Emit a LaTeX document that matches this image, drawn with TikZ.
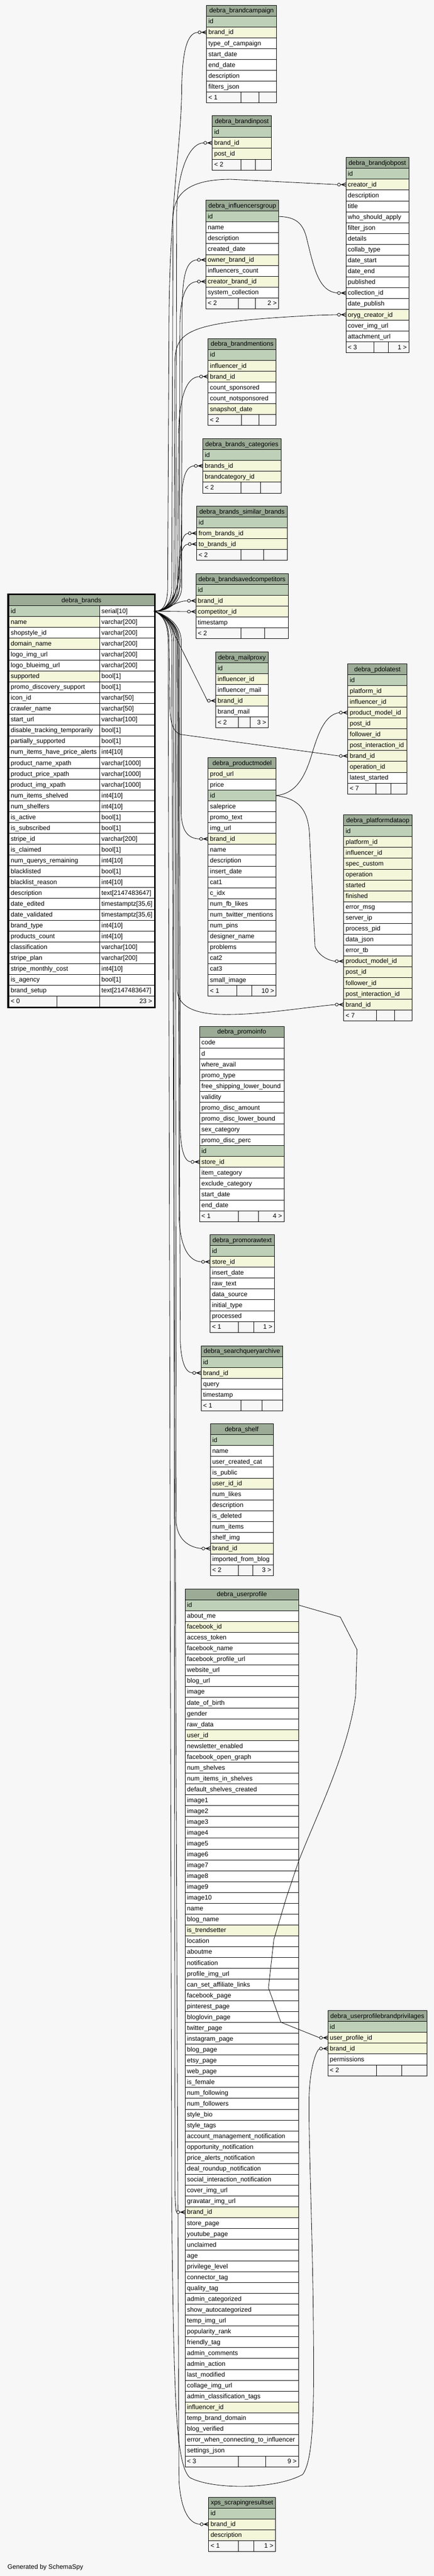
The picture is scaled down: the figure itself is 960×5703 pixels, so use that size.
\documentclass[tikz,border=0pt]{standalone}
\usepackage{fontspec}
\setmainfont{Liberation Sans}
\definecolor{bg}{HTML}{F7F7F7}
\definecolor{hd}{HTML}{9BAB96}
\definecolor{pk}{HTML}{BED1B8}
\definecolor{ix}{HTML}{F4F7DA}
\colorlet{pl}{white}
\newcommand\rfont{\fontsize{10.7}{13}\selectfont}
\tikzset{
  rowbox/.style={draw=black, line width=0.6pt, anchor=north west, minimum height=18pt, inner sep=0pt, outer sep=0pt},
  rowtext/.style={anchor=base west, inner sep=0pt, font=\rfont},
  rowtextr/.style={anchor=base east, inner sep=0pt, font=\rfont},
  hdtext/.style={anchor=base, inner sep=0pt, font=\rfont},
  edge/.style={draw=black, line width=0.7pt},
  crowline/.style={draw=black, line width=0.9pt},
}
\newcommand\dbtable[6]{%
  \node[rowbox, fill=hd, minimum width={#5*0.75pt}] (#1-h) at (#3,#4) {};
  \node[hdtext] at ([yshift=-3.6pt]#1-h.center) {#2};
  \foreach \rc/\rt [count=\ri] in {#6} {
    \node[rowbox, fill=\rc, minimum width={#5*0.75pt}] (#1-\ri) at (#3,#4+24*\ri) {};
    \node[rowtext] at ([shift={(3pt,-3.6pt)}]#1-\ri.west) {\rt};
  }%
}
\newcommand\dbfoot[8]{%
  \node[rowbox, fill=bg, minimum width={#4*0.75pt}] (#1-f) at (#2,#3) {};
  \draw[line width=0.6pt] (#5,#3) -- (#5,#3+24) (#6,#3) -- (#6,#3+24);
  \node[rowtext] at ([shift={(3pt,-3.6pt)}]#1-f.west) {#7};
  \node[rowtextr] at ([shift={(-3pt,-3.6pt)}]#1-f.east) {#8};
}
\newcommand\crowfoot[1]{%
  \draw[crowline] ([xshift=-7.5pt]#1.west) -- ([yshift=3pt]#1.west)
                  ([xshift=-7.5pt]#1.west) -- (#1.west)
                  ([xshift=-7.5pt]#1.west) -- ([yshift=-3pt]#1.west);
  \draw[edge] ([xshift=-9.1pt]#1.west) -- ([xshift=-7.5pt]#1.west);
  \draw[edge, fill=bg] ([xshift=-11.6pt]#1.west) circle (2.5pt);
}
\begin{document}
\begin{tikzpicture}[x=0.75pt,y=-0.75pt]
\fill[bg] (0,0) rectangle (960,5703);
\useasboundingbox (0,0) rectangle (960,5703);

% ---------- tables ----------
\dbtable{bc}{debra\_brandcampaign}{457}{11.6}{155}{pk/id,ix/brand\_id,pl/type\_of\_campaign,pl/start\_date,pl/end\_date,pl/description,pl/filters\_json}
\dbfoot{bc}{457}{203.6}{155}{533}{572.5}{< 1}{}

\dbtable{bi}{debra\_brandinpost}{469.7}{256.3}{131}{pk/id,ix/brand\_id,ix/post\_id}
\dbfoot{bi}{469.7}{352.3}{131}{532.8}{565.2}{< 2}{}

\dbtable{bj}{debra\_brandjobpost}{765.5}{348.7}{139}{pk/id,ix/creator\_id,pl/description,pl/title,pl/who\_should\_apply,pl/filter\_json,pl/details,pl/collab\_type,pl/date\_start,pl/date\_end,pl/published,pl/collection\_id,pl/date\_publish,ix/oryg\_creator\_id,pl/cover\_img\_url,pl/attachment\_url}
\dbfoot{bj}{765.5}{756.7}{139}{827.3}{859.8}{< 3}{1 >}

\dbtable{ig}{debra\_influencersgroup}{455.6}{443.3}{161.1}{pk/id,pl/name,pl/description,pl/created\_date,ix/owner\_brand\_id,pl/influencers\_count,ix/creator\_brand\_id,pl/system\_collection}
\dbfoot{ig}{455.6}{659.3}{161.1}{527.2}{565.2}{< 2}{2 >}

\dbtable{bm}{debra\_brandmentions}{460.5}{749.6}{150.6}{pk/id,ix/influencer\_id,ix/brand\_id,pl/count\_sponsored,pl/count\_notsponsored,ix/snapshot\_date}
\dbfoot{bm}{460.5}{917.6}{150.6}{534}{572.6}{< 2}{}

\dbtable{bcat}{debra\_brands\_categories}{448.9}{971.4}{172.7}{pk/id,ix/brands\_id,ix/brandcategory\_id}
\dbfoot{bcat}{448.9}{1067.4}{172.7}{532.8}{576.9}{< 2}{}

\dbtable{sb}{debra\_brands\_similar\_brands}{435.4}{1120.5}{200.2}{pk/id,ix/from\_brands\_id,ix/to\_brands\_id}
\dbfoot{sb}{435.4}{1216.5}{200.2}{532.8}{583.6}{< 2}{}

\dbtable{sc}{debra\_brandsavedcompetitors}{433.6}{1270}{203.9}{pk/id,ix/brand\_id,ix/competitor\_id,pl/timestamp}
\dbfoot{sc}{433.6}{1390}{203.9}{533.4}{585.4}{< 2}{}

\dbtable{mp}{debra\_mailproxy}{477.6}{1443.3}{115.8}{pk/id,ix/influencer\_id,pl/influencer\_mail,ix/brand\_id,pl/brand\_mail}
\dbfoot{mp}{477.6}{1587.3}{115.8}{527.9}{553.6}{< 2}{3 >}

\dbtable{pl}{debra\_pdolatest}{769.7}{1469.6}{131.1}{pk/id,ix/platform\_id,ix/influencer\_id,ix/product\_model\_id,ix/post\_id,ix/follower\_id,ix/post\_interaction\_id,ix/brand\_id,ix/operation\_id,pl/latest\_started}
\dbfoot{pl}{769.7}{1733.6}{131.1}{832.2}{865.3}{< 7}{}

\dbtable{pm}{debra\_productmodel}{460.5}{1677.2}{150.6}{ix/prod\_url,pl/price,pk/id,pl/saleprice,pl/promo\_text,pl/img\_url,ix/brand\_id,pl/name,pl/description,pl/insert\_date,pl/cat1,pl/c\_idx,pl/num\_fb\_likes,pl/num\_twitter\_mentions,pl/num\_pins,pl/designer\_name,pl/problems,pl/cat2,pl/cat3,pl/small\_image}
\dbfoot{pm}{460.5}{2181.2}{150.6}{523.6}{556.6}{< 1}{10 >}

\dbtable{pd}{debra\_platformdataop}{760.6}{1804}{151.2}{pk/id,ix/platform\_id,ix/influencer\_id,ix/spec\_custom,ix/operation,ix/started,ix/finished,pl/error\_msg,pl/server\_ip,pl/process\_pid,pl/data\_json,pl/error\_tb,ix/product\_model\_id,ix/post\_id,ix/follower\_id,ix/post\_interaction\_id,ix/brand\_id}
\dbfoot{pd}{760.6}{2236}{151.2}{833.4}{872.6}{< 7}{}

\dbtable{pi}{debra\_promoinfo}{441.5}{2272.3}{186.8}{pl/code,pl/d,pl/where\_avail,pl/promo\_type,pl/free\_shipping\_lower\_bound,pl/validity,pl/promo\_disc\_amount,pl/promo\_disc\_lower\_bound,pl/sex\_category,pl/promo\_disc\_perc,pk/id,ix/store\_id,pl/item\_category,pl/exclude\_category,pl/start\_date,pl/end\_date}
\dbfoot{pi}{441.5}{2680.3}{186.8}{527.2}{572}{< 1}{4 >}

\dbtable{pr}{debra\_promorawtext}{464.8}{2733.5}{142.1}{pk/id,ix/store\_id,pl/insert\_date,pl/raw\_text,pl/data\_source,pl/initial\_type,pl/processed}
\dbfoot{pr}{464.8}{2925.5}{142.1}{527.2}{561}{< 1}{1 >}

\dbtable{sq}{debra\_searchqueryarchive}{445.2}{2979.5}{180}{pk/id,ix/brand\_id,pl/query,pl/timestamp}
\dbfoot{sq}{445.2}{3099.5}{180}{533.4}{579.3}{< 1}{}

\dbtable{sh}{debra\_shelf}{465.4}{3152.2}{139}{pk/id,pl/name,pl/user\_created\_cat,pl/is\_public,ix/user\_id\_id,pl/num\_likes,pl/description,pl/is\_deleted,pl/num\_items,pl/shelf\_img,ix/brand\_id,pl/imported\_from\_blog}
\dbfoot{sh}{465.4}{3464.2}{139}{527.2}{559.7}{< 2}{3 >}

\dbtable{up}{debra\_userprofile}{409.7}{3517.4}{251}{pk/id,pl/about\_me,ix/facebook\_id,pl/access\_token,pl/facebook\_name,pl/facebook\_profile\_url,pl/website\_url,pl/blog\_url,pl/image,pl/date\_of\_birth,pl/gender,pl/raw\_data,ix/user\_id,pl/newsletter\_enabled,pl/facebook\_open\_graph,pl/num\_shelves,pl/num\_items\_in\_shelves,pl/default\_shelves\_created,pl/image1,pl/image2,pl/image3,pl/image4,pl/image5,pl/image6,pl/image7,pl/image8,pl/image9,pl/image10,pl/name,pl/blog\_name,ix/is\_trendsetter,pl/location,pl/aboutme,pl/notification,pl/profile\_img\_url,pl/can\_set\_affiliate\_links,pl/facebook\_page,pl/pinterest\_page,pl/bloglovin\_page,pl/twitter\_page,pl/instagram\_page,pl/blog\_page,pl/etsy\_page,pl/web\_page,pl/is\_female,pl/num\_following,pl/num\_followers,pl/style\_bio,pl/style\_tags,pl/account\_management\_notification,pl/opportunity\_notification,pl/price\_alerts\_notification,pl/deal\_roundup\_notification,pl/social\_interaction\_notification,pl/cover\_img\_url,pl/gravatar\_img\_url,ix/brand\_id,pl/store\_page,pl/youtube\_page,pl/unclaimed,pl/age,pl/privilege\_level,pl/connector\_tag,pl/quality\_tag,pl/admin\_categorized,pl/show\_autocategorized,pl/temp\_img\_url,pl/popularity\_rank,pl/friendly\_tag,pl/admin\_comments,pl/admin\_action,pl/last\_modified,pl/collage\_img\_url,pl/admin\_classification\_tags,ix/influencer\_id,pl/temp\_brand\_domain,pl/blog\_verified,pl/error\_when\_connecting\_to\_influencer,pl/settings\_json}
\dbfoot{up}{409.7}{5437.4}{251}{527.2}{587.3}{< 3}{9 >}

\dbtable{ub}{debra\_userprofilebrandprivilages}{725.7}{4451.3}{218.6}{pk/id,ix/user\_profile\_id,ix/brand\_id,pl/permissions}
\dbfoot{ub}{725.7}{4571.3}{218.6}{832.8}{888.5}{< 2}{}

\dbtable{xs}{xps\_scrapingresultset}{461.7}{5528.3}{147.6}{pk/id,ix/brand\_id,ix/description}
\dbfoot{xs}{461.7}{5624.3}{147.6}{527.2}{561.5}{< 1}{1 >}

% ---------- debra_brands ----------
\node[rowbox, fill=hd, minimum width={321.5*0.75pt}] (br-h) at (19.5,1317) {};
\node[hdtext] at ([yshift=-3.6pt]br-h.center) {debra\_brands};
\foreach \rc/\rn/\rt [count=\ri] in {pk/id/serial[10],ix/name/varchar[200],pl/shopstyle\_id/varchar[200],ix/domain\_name/varchar[200],pl/logo\_img\_url/varchar[200],pl/logo\_blueimg\_url/varchar[200],ix/supported/bool[1],pl/promo\_discovery\_support/bool[1],pl/icon\_id/varchar[50],pl/crawler\_name/varchar[50],pl/start\_url/varchar[100],pl/disable\_tracking\_temporarily/bool[1],pl/partially\_supported/bool[1],pl/num\_items\_have\_price\_alerts/int4[10],pl/product\_name\_xpath/varchar[1000],pl/product\_price\_xpath/varchar[1000],pl/product\_img\_xpath/varchar[1000],pl/num\_items\_shelved/int4[10],pl/num\_shelfers/int4[10],pl/is\_active/bool[1],pl/is\_subscribed/bool[1],pl/stripe\_id/varchar[200],pl/is\_claimed/bool[1],pl/num\_querys\_remaining/int4[10],pl/blacklisted/bool[1],pl/blacklist\_reason/int4[10],pl/description/text[2147483647],pl/date\_edited/timestamptz[35{,}6],pl/date\_validated/timestamptz[35{,}6],pl/brand\_type/int4[10],pl/products\_count/int4[10],pl/classification/varchar[100],pl/stripe\_plan/varchar[200],pl/stripe\_monthly\_cost/int4[10],pl/is\_agency/bool[1],pl/brand\_setup/text[2147483647]} {
  \node[rowbox, fill=\rc, minimum width={200.9*0.75pt}] (br-\ri) at (19.5,1317+24*\ri) {};
  \node[rowbox, fill=white, minimum width={120.6*0.75pt}] (bt-\ri) at (220.4,1317+24*\ri) {};
  \node[rowtext] at ([shift={(3pt,-3.6pt)}]br-\ri.west) {\rn};
  \node[rowtext] at ([shift={(3pt,-3.6pt)}]bt-\ri.west) {\rt};
}
\dbfoot{br}{19.5}{2205}{321.5}{125.5}{220.4}{< 0}{23 >}
\draw[line width=2.3pt] (17.5,1315) rectangle (342.5,2231);

\node[rowtext] (gen) at (16.5,5687) {Generated by SchemaSpy};

% ---------- connectors ----------
\coordinate (src) at (bt-1.east);
\draw[edge] (src) .. controls (362,1355) and (371,1335) .. (371,1300) -- (374,700) .. controls (376,450) and (401,320) .. (402,200) .. controls (403,110) and (415,72) .. ([xshift=-14pt]bc-2.west);
\draw[edge] (src) .. controls (364,1355) and (389,1335) .. (389,1300) -- (391,470) .. controls (392,390) and (415,317) .. ([xshift=-14pt]bi-2.west);
\draw[edge] (src) .. controls (363,1355) and (380,1335) .. (380,1300) -- (383,480) .. controls (385,420) and (430,397) .. (511,397) -- ([xshift=-14pt]bj-2.west);
\draw[edge] (src) .. controls (367,1355) and (402,1335) .. (402,1300) -- (403,680) .. controls (404,610) and (412,576) .. ([xshift=-14pt]ig-5.west);
\draw[edge] (src) .. controls (366,1355) and (397,1335) .. (397,1300) -- (398,720) .. controls (399,660) and (410,624) .. ([xshift=-14pt]ig-7.west);
\draw[edge] (src) .. controls (362,1355) and (385,1335) .. (385,1300) -- (387,800) .. controls (389,730) and (420,712) .. (700,698) -- ([xshift=-14pt]bj-14.west);
\draw[edge] (src) .. controls (365,1355) and (393,1335) .. (393,1300) -- (395,960) .. controls (397,880) and (412,834) .. ([xshift=-14pt]bm-3.west);
\draw[edge] (src) .. controls (368,1355) and (400,1330) .. (400,1280) -- (402,1110) .. controls (403,1060) and (410,1032) .. ([xshift=-14pt]bcat-2.west);
\draw[edge] (src) .. controls (366,1355) and (396,1320) .. (396,1265) .. controls (397,1215) and (402,1181) .. ([xshift=-14pt]sb-2.west);
\draw[edge] (src) .. controls (368,1355) and (392,1325) .. (394,1280) .. controls (396,1235) and (402,1205) .. ([xshift=-14pt]sb-3.west);
\draw[edge] (src) .. controls (370,1352) and (385,1331) .. ([xshift=-14pt]sc-2.west);
\draw[edge] (src) -- ([xshift=-14pt]sc-3.west);
\draw[edge] (src) .. controls (360,1360) and (378,1378) .. (386,1405) -- ([xshift=-14pt]mp-4.west);
\draw[edge] (src) .. controls (362,1360) and (374,1380) .. (374,1420) -- (376,1570) .. controls (378,1612) and (388,1622) .. (400,1626) -- ([xshift=-14pt]pl-8.west);
\draw[edge] (src) .. controls (365,1360) and (401,1380) .. (401,1420) -- (401,1800) .. controls (402,1838) and (415,1857) .. ([xshift=-14pt]pm-7.west);
\draw[edge] (src) .. controls (363,1362) and (391,1380) .. (391,1420) -- (392,2190) .. controls (393,2228) and (430,2246) .. (500,2246) .. controls (580,2246) and (660,2232) .. ([xshift=-14pt]pd-17.west);
\draw[edge] (src) .. controls (364,1362) and (397,1380) .. (397,1420) -- (399,2500) .. controls (400,2545) and (408,2572) .. ([xshift=-14pt]pi-12.west);
\draw[edge] (src) .. controls (364,1362) and (395,1380) .. (395,1420) -- (396,2690) .. controls (398,2765) and (420,2793) .. ([xshift=-14pt]pr-2.west);
\draw[edge] (src) .. controls (364,1362) and (393,1380) .. (393,1420) -- (399,2970) .. controls (401,3015) and (410,3039) .. ([xshift=-14pt]sq-2.west);
\draw[edge] (src) .. controls (363,1362) and (388,1380) .. (388,1420) -- (390,3370) .. controls (392,3405) and (415,3426) .. ([xshift=-14pt]sh-11.west);
\draw[edge] (src) .. controls (362,1362) and (384,1380) .. (384,1420) -- (387,4850) .. controls (388,4880) and (389,4897) .. ([xshift=-14pt]up-57.west);
\draw[edge] (src) .. controls (363,1362) and (380,1380) .. (380,1420) -- (396,5490) .. controls (400,5560) and (420,5588) .. ([xshift=-14pt]xs-2.west);
\draw[edge] (src) .. controls (361,1362) and (372,1380) .. (372,1420) -- (380,4900) .. controls (385,5300) and (388,5455) .. (420,5485) .. controls (470,5512) and (610,5512) .. (670,5478) .. controls (697,5440) and (695,5300) .. (693,5100) .. controls (690,4900) and (682,4700) .. (684,4640) .. controls (686,4580) and (698,4542) .. ([xshift=-14pt]ub-3.west);
\draw[edge] (ig-1.east) .. controls (655,480) and (670,495) .. (678,525) .. controls (695,595) and (705,645) .. ([xshift=-14pt]bj-12.west);
\draw[edge] (pm-3.east) .. controls (655,1757) and (675,1720) .. (690,1670) .. controls (705,1620) and (720,1582) .. ([xshift=-14pt]pl-4.west);
\draw[edge] (pm-3.east) .. controls (650,1768) and (682,1780) .. (685,1850) -- (697,2095) .. controls (703,2112) and (722,2126) .. ([xshift=-14pt]pd-13.west);
\draw[edge] (up-1.east) -- (753,3580) -- (790,3652) -- (787,3754) .. controls (770,3880) and (700,4020) .. (661,4120) -- (634,4200) -- (606,4294) -- (594,4401) -- (621.6,4477) -- ([xshift=-14pt]ub-2.west);

\foreach \n in {bc-2,bi-2,bj-2,ig-5,ig-7,bj-14,bm-3,bcat-2,sb-2,sb-3,sc-2,sc-3,mp-4,pl-8,pm-7,pd-17,pi-12,pr-2,sq-2,sh-11,up-57,xs-2,ub-3,bj-12,pl-4,pd-13,ub-2} {\crowfoot{\n}}
\end{tikzpicture}
\end{document}
